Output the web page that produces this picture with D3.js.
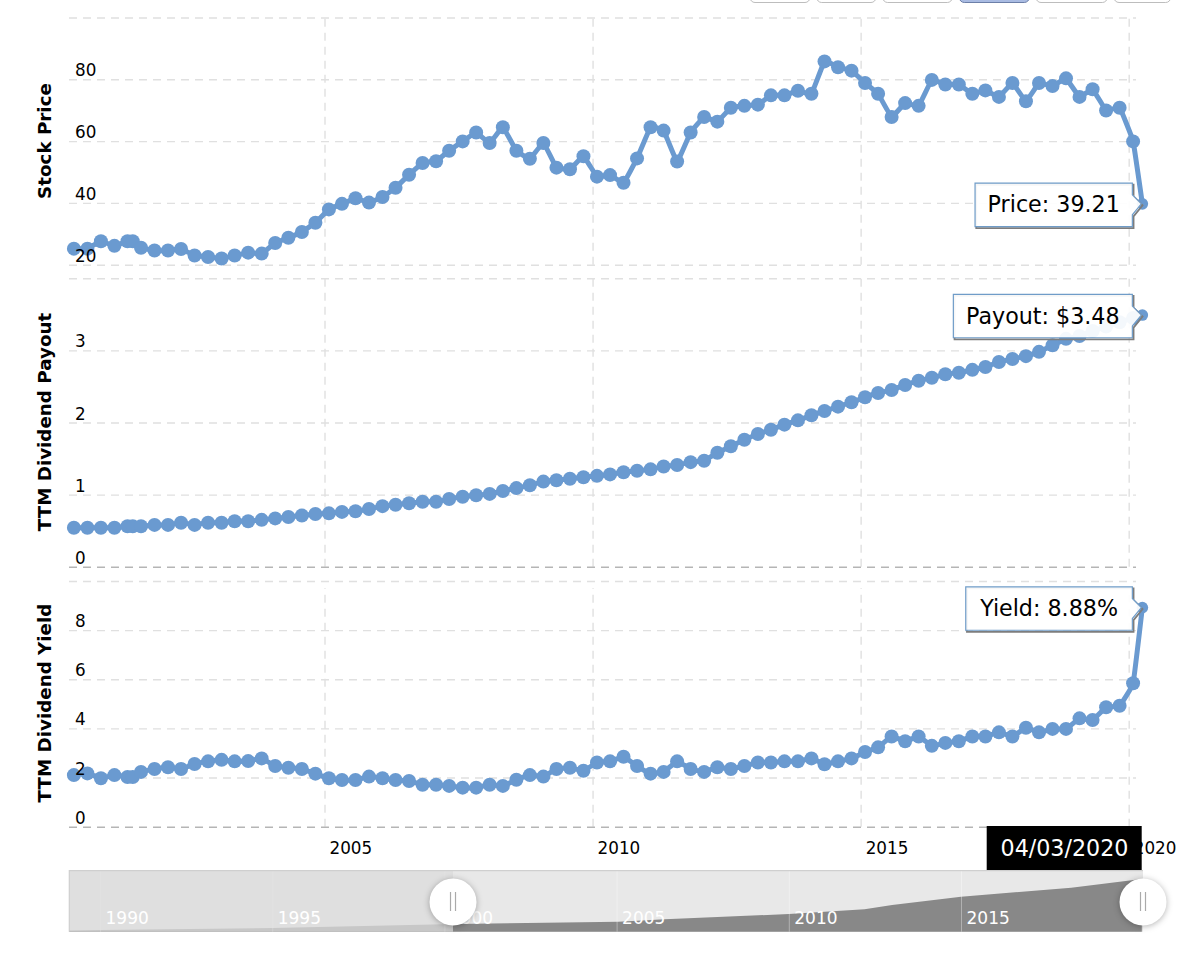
<!DOCTYPE html>
<html>
<head>
<meta charset="utf-8">
<script src="https://cdn.jsdelivr.net/npm/d3@7/dist/d3.min.js"></script>
<style>
  html, body { margin: 0; padding: 0; background: #fff; overflow: hidden; }
  text { font-family: "DejaVu Sans", sans-serif; }
  .grid line { stroke: #e0e0e0; stroke-width: 1.4; stroke-dasharray: 8,6; }
  .grid path { display: none; }
  .grid text { fill: #000; font-size: 16.8px; }
  .title { font-weight: bold; font-size: 18.3px; fill: #000; }
  .nav-axis line { stroke: #fff; stroke-opacity: 0.35; stroke-width: 1; }
  .nav-axis path { display: none; }
  .nav-labels line { display: none; }
  .nav-labels path { display: none; }
  .nav-labels text { fill: #fff; font-size: 17px; }
</style>
</head>
<body>
<div id="root"></div>
<script>
const dates = [
  "2000-04-30","2000-07-31","2000-10-31","2001-01-31","2001-04-30","2001-06-05","2001-07-31","2001-10-31",
  "2002-01-31","2002-04-30","2002-07-31","2002-10-31","2003-01-31","2003-04-30","2003-07-31","2003-10-31",
  "2004-01-31","2004-04-30","2004-07-31","2004-10-31","2005-01-31","2005-04-30","2005-07-31","2005-10-31",
  "2006-01-31","2006-04-30","2006-07-31","2006-10-31","2007-01-31","2007-04-30","2007-07-31","2007-10-31",
  "2008-01-31","2008-04-30","2008-07-31","2008-10-31","2009-01-31","2009-04-30","2009-07-31","2009-10-31",
  "2010-01-31","2010-04-30","2010-07-31","2010-10-31","2011-01-31","2011-04-30","2011-07-31","2011-10-31",
  "2012-01-31","2012-04-30","2012-07-31","2012-10-31","2013-01-31","2013-04-30","2013-07-31","2013-10-31",
  "2014-01-31","2014-04-30","2014-07-31","2014-10-31","2015-01-31","2015-04-30","2015-07-31","2015-10-31",
  "2016-01-31","2016-04-30","2016-07-31","2016-10-31","2017-01-31","2017-04-30","2017-07-31","2017-10-31",
  "2018-01-31","2018-04-30","2018-07-31","2018-10-31","2019-01-31","2019-04-30","2019-07-31","2019-10-31",
  "2020-01-31","2020-04-03"
];
const price = [
  25.2,25.2,27.6,26.1,27.6,27.6,25.5,24.6,24.6,25.1,23.0,22.5,22.0,23.0,23.9,23.6,27.0,28.7,30.6,33.6,37.9,39.7,41.5,40.1,41.9,44.9,
  49.1,52.9,53.5,56.9,59.9,62.8,59.4,64.5,56.9,54.3,59.4,51.4,50.9,55.1,48.5,49.0,46.5,54.4,64.5,63.4,53.4,62.8,67.8,66.3,70.8,71.4,71.8,74.8,74.8,76.3,
  75.3,85.8,83.9,82.8,78.8,75.3,67.8,72.3,71.4,79.8,78.3,78.3,75.3,76.4,74.3,78.8,72.9,78.8,77.8,80.3,74.3,76.8,69.9,70.8,59.9,39.7
];
const payout = [
  0.54,0.54,0.54,0.54,0.56,0.56,0.56,0.58,0.58,0.61,0.58,0.61,0.61,0.63,0.63,0.65,0.67,0.69,0.71,0.73,0.74,0.76,0.77,0.80,0.84,0.86,0.88,0.90,0.90,0.94,
  0.97,0.99,1.01,1.05,1.09,1.13,1.18,1.20,1.22,1.24,1.26,1.28,1.31,1.33,1.35,1.39,1.41,1.45,1.47,1.58,1.67,1.76,1.84,1.90,1.97,2.03,2.10,2.16,
  2.22,2.28,2.35,2.41,2.45,2.52,2.58,2.62,2.67,2.69,2.73,2.77,2.84,2.88,2.92,2.98,3.07,3.16,3.20,3.27,3.33,3.39,3.45,3.49
];
const yieldPct = [
  2.10,2.17,1.97,2.10,2.02,2.02,2.23,2.35,2.42,2.35,2.55,2.66,2.72,2.66,2.67,2.78,2.47,2.40,2.35,2.16,1.97,1.90,1.90,2.04,1.97,1.90,
  1.86,1.71,1.71,1.66,1.59,1.59,1.71,1.66,1.91,2.10,2.04,2.35,2.40,2.28,2.61,2.66,2.85,2.47,2.16,2.23,2.66,2.35,2.23,2.42,2.35,2.47,2.61,2.61,2.66,2.66,
  2.78,2.54,2.66,2.78,3.04,3.23,3.67,3.48,3.67,3.29,3.41,3.48,3.67,3.67,3.84,3.67,4.03,3.84,3.98,3.98,4.41,4.34,4.86,4.92,5.84,8.92
];
const priceTicks = [20, 40, 60, 80, 100];
const payoutTicks = [0, 1, 2, 3, 4];
const yieldTicks = [0, 2, 4, 6, 8, 10];
const xTicks = [2005, 2010, 2015, 2020];
const navYears = [1989.1, 1990, 1995, 2000.3, 2005.05, 2006.4, 2010, 2012.2, 2013, 2015, 2018.2, 2020.25];
const navValues = [0.08, 0.11, 0.24, 0.51, 0.66, 0.82, 1.17, 1.48, 1.76, 2.31, 2.9, 3.48];
const navTicks = [1990, 1995, 2000, 2005, 2010, 2015];

const w = 1200, h = 961;
const left = 69, right = 1136;
const blue = "#6a9ad0";

const svg = d3.select("#root").append("svg")
  .attr("width", w)
  .attr("height", h)
  .style("display", "block");

// range buttons, only their bottom edge shows
const buttons = [[750, 60], [816.7, 59.3], [882.7, 69.6], [959.3, 70, true], [1036, 71.3], [1114, 56.7]];
svg.selectAll(".btn").data(buttons).enter().append("rect")
  .attr("class", "btn")
  .attr("x", d => d[0])
  .attr("y", -12)
  .attr("width", d => d[1])
  .attr("height", 14.5)
  .attr("rx", 5)
  .attr("fill", d => d[2] ? "#a9bbe2" : "#fff")
  .attr("stroke", d => d[2] ? "#6c7fa8" : "#bdbdbd");

const x = d3.scaleUtc()
  .domain([new Date(Date.UTC(2005, 0, 1)), new Date(Date.UTC(2020, 0, 1))])
  .range([324.5, 1128.7]);
const parsed = dates.map(d => new Date(d + "T00:00:00Z"));
const yearDates = xTicks.map(y => new Date(Date.UTC(y, 0, 1)));

const panels = [
  { title: "Stock Price", titleY: 141, values: price, ticks: priceTicks, domain: [20, 100], range: [264.7, 17.5], vTop: 17.5, label: "Price: 39.21", boxW: 157.3 },
  { title: "TTM Dividend Payout", titleY: 422, values: payout, ticks: payoutTicks, domain: [0, 4], range: [566.7, 278.3], vTop: 278.3, label: "Payout: $3.48", boxW: 179 },
  { title: "TTM Dividend Yield", titleY: 703, values: yieldPct, ticks: yieldTicks, domain: [0, 10], range: [826.7, 581], vTop: 588, label: "Yield: 8.88%", boxW: 166.6 }
];

panels.forEach(function(p) {
  p.y = d3.scaleLinear().domain(p.domain).range(p.range);

  const bottom = p.range[0];
  svg.append("g")
    .attr("class", "grid")
    .attr("transform", "translate(0," + bottom + ")")
    .call(d3.axisBottom(x).tickValues(yearDates).tickSize(-(bottom - p.vTop)).tickFormat(""));

  const hGrid = svg.append("g")
    .attr("class", "grid")
    .attr("transform", "translate(" + left + ",0)")
    .call(d3.axisLeft(p.y).tickValues(p.ticks).tickSize(-(right - left)).tickFormat(""));

  // baseline of the two lower panes is darker
  if (p.domain[0] === 0) {
    hGrid.selectAll(".tick").filter(d => d === 0).select("line").style("stroke", "#b5b5b5");
  }

  const line = d3.line()
    .x((d, i) => x(parsed[i]))
    .y(d => p.y(d))
    .curve(d3.curveCardinal.tension(0.75));

  svg.append("path")
    .attr("d", line(p.values))
    .attr("fill", "none")
    .attr("stroke", blue)
    .attr("stroke-width", 5)
    .attr("stroke-linejoin", "round");

  svg.append("g").selectAll("circle")
    .data(p.values)
    .enter().append("circle")
    .attr("cx", (d, i) => x(parsed[i]))
    .attr("cy", d => p.y(d))
    .attr("r", (d, i) => i === p.values.length - 1 ? 5.8 : 7)
    .attr("fill", blue);
});

// tick labels sit over the series
panels.forEach(function(p) {
  svg.append("g")
    .attr("class", "grid")
    .attr("transform", "translate(" + left + ",0)")
    .call(d3.axisRight(p.y).tickValues(p.ticks.filter(t => t !== 100 && t !== 10 && !(p.domain[1] === 4 && t === 4))).tickSize(0).tickFormat(d3.format("d")))
    .selectAll("text")
    .attr("x", 6)
    .attr("dy", "-3.5px")
    .style("dominant-baseline", "auto");

  svg.append("text")
    .attr("class", "title")
    .attr("transform", "translate(50.5," + p.titleY + ") rotate(-90)")
    .attr("text-anchor", "middle")
    .text(p.title);
});

// tooltips on the last point of each pane
panels.forEach(function(p) {
  const last = p.values.length - 1;
  const px = x(parsed[last]), py = p.y(p.values[last]);
  const r = px - 10, l = r - p.boxW, cy = py + 1, t = cy - 21.7, b = cy + 21.7;
  const shape = "M" + l + "," + t + "L" + r + "," + t + "L" + r + "," + (py - 9) + "L" + (px - 1) + "," + py +
    "L" + r + "," + (py + 11) + "L" + r + "," + b + "L" + l + "," + b + "Z";
  svg.append("path")
    .attr("d", shape)
    .attr("transform", "translate(1.2,1.6)")
    .attr("fill", "none")
    .attr("stroke", "#7d7d7d")
    .attr("stroke-width", 1.8);
  svg.append("path")
    .attr("d", shape)
    .attr("fill", "#fff")
    .attr("fill-opacity", 0.93)
    .attr("stroke", "#6f9cc8")
    .attr("stroke-width", 1.2);
  svg.append("text")
    .attr("x", (l + r) / 2)
    .attr("y", cy + 7.5)
    .attr("text-anchor", "middle")
    .attr("font-size", "22.2px")
    .attr("fill", "#000")
    .text(p.label);
});

// x axis labels
const xLabels = svg.append("g")
  .attr("class", "grid")
  .attr("transform", "translate(0,826.7)")
  .call(d3.axisBottom(x).tickValues(yearDates).tickSize(0).tickFormat(d3.utcFormat("%Y")));
xLabels.selectAll("text")
  .attr("x", 4.5)
  .attr("y", 27)
  .attr("dy", 0)
  .attr("text-anchor", "start");

// date flag
svg.append("rect")
  .attr("x", 986.7)
  .attr("y", 826)
  .attr("width", 155)
  .attr("height", 44)
  .attr("fill", "#000");
svg.append("text")
  .attr("x", 1064.5)
  .attr("y", 855.5)
  .attr("text-anchor", "middle")
  .attr("font-size", "22.2px")
  .attr("fill", "#fff")
  .text("04/03/2020");

// navigator
const navTop = 870.7, navBottom = 931.7, navLeft = 69.3, navRight = 1143;
const navX = d3.scaleLinear().domain([1990, 2015]).range([100, 961]);
const navY = d3.scaleLinear().domain([0, 3.48]).range([navBottom, 879]);

svg.append("rect")
  .attr("x", navLeft)
  .attr("y", navTop)
  .attr("width", navRight - navLeft)
  .attr("height", navBottom - navTop)
  .attr("fill", "#e8e8e8");

const navArea = d3.area()
  .x((d, i) => navX(navYears[i]))
  .y0(navBottom)
  .y1(d => navY(d));
svg.append("path")
  .attr("d", navArea(navValues))
  .attr("fill", "#888");

svg.append("g")
  .attr("class", "nav-axis")
  .attr("transform", "translate(0," + navBottom + ")")
  .call(d3.axisBottom(navX).tickValues(navTicks).tickSize(-(navBottom - navTop)).tickFormat(""));

// part of the navigator outside the selected range
const handleX = navX(2000.25);
svg.append("rect")
  .attr("x", navLeft)
  .attr("y", navTop)
  .attr("width", handleX - navLeft)
  .attr("height", navBottom - navTop)
  .attr("fill", "rgb(220,220,220)")
  .attr("fill-opacity", 0.75);

// year labels stay white over the mask
svg.append("g")
  .attr("class", "nav-labels")
  .attr("transform", "translate(0," + navBottom + ")")
  .call(d3.axisBottom(navX).tickValues(navTicks).tickSize(0).tickFormat(d3.format("d")))
  .selectAll("text")
  .attr("x", 5)
  .attr("y", -8)
  .attr("dy", 0)
  .attr("text-anchor", "start");

svg.append("path")
  .attr("d", "M" + navLeft + "," + navBottom + "V" + navTop + "H" + navRight)
  .attr("fill", "none")
  .attr("stroke", "#cfcfcf")
  .attr("stroke-width", 1.2);

[handleX, navRight].forEach(function(hx) {
  svg.append("circle")
    .attr("cx", hx)
    .attr("cy", 902)
    .attr("r", 23.5)
    .attr("fill", "#fff")
    .style("filter", "drop-shadow(0 1px 3px rgba(0,0,0,0.3))");
  [-2.5, 2.5].forEach(function(dx) {
    svg.append("line")
      .attr("x1", hx + dx)
      .attr("x2", hx + dx)
      .attr("y1", 892)
      .attr("y2", 911)
      .attr("stroke", "#aaa")
      .attr("stroke-width", 1.2);
  });
});
</script>
</body>
</html>
